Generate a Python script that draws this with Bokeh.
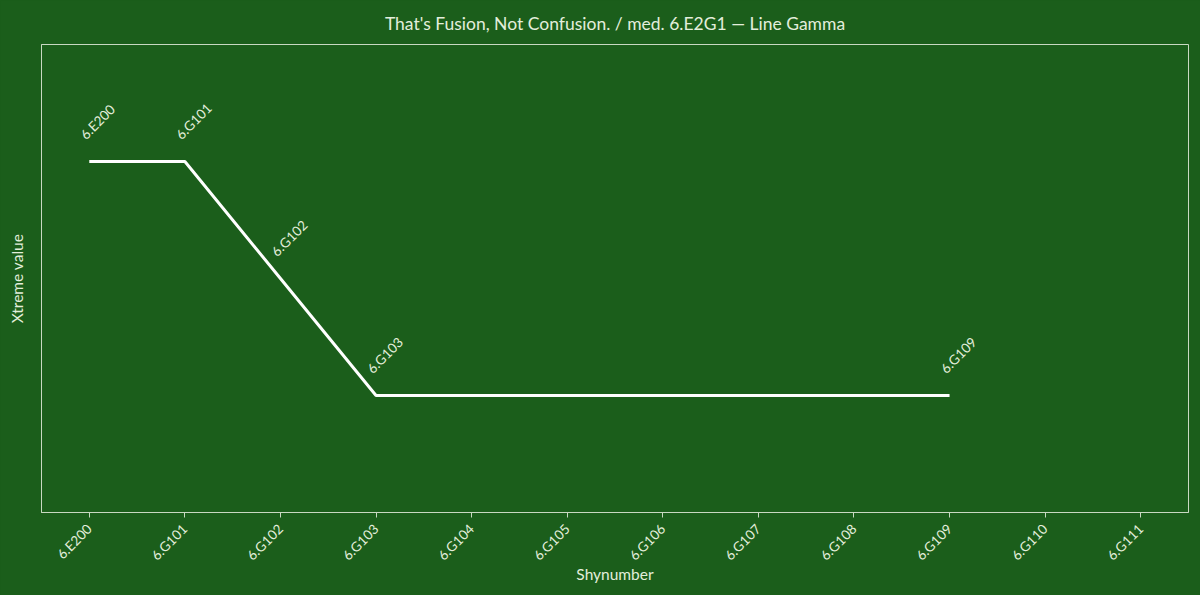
import math
import re
from bokeh.plotting import figure
from bokeh.models import ColumnDataSource, FixedTicker, Range1d, FactorRange
from bokeh.core.properties import value
from bokeh.embed import file_html
from bokeh.resources import INLINE

categories = ["6.E200", "6.G101", "6.G102", "6.G103", "6.G104", "6.G105",
              "6.G106", "6.G107", "6.G108", "6.G109", "6.G110", "6.G111"]
point_x = ["6.E200", "6.G101", "6.G102", "6.G103", "6.G109"]
point_y = [2.0, 2.0, 1.5, 1.0, 1.0]
title_text = "That's Fusion, Not Confusion. / med. 6.E2G1 \u2014 Line Gamma"

BG = "#1b5e1b"
FG = "#e3eedc"
EDGE = "#c9d9c2"
FONT = "Lato"

src = ColumnDataSource(dict(x=point_x, y=point_y, label=point_x))

p = figure(x_range=FactorRange(*categories), y_range=Range1d(0.5, 2.5),
           frame_width=1147, frame_height=468,
           min_border_left=41, min_border_right=12, min_border_top=44, min_border_bottom=83,
           output_backend="svg", toolbar_location=None, title=title_text)
p.x_range.range_padding = 0
p.background_fill_color = BG
p.border_fill_color = BG
p.outline_line_color = EDGE
p.grid.visible = False

p.title.align = "center"
p.title.text_color = FG
p.title.text_font = FONT
p.title.text_font_size = "17.5px"
p.title.text_font_style = "normal"
p.title.text_line_height = 0.8
p.title.standoff = 21

p.line("x", "y", source=src, line_color="white", line_width=3)
p.text("x", "y", text="label", source=src, angle=math.pi / 4,
       x_offset=-1, y_offset=-19, text_align="left", text_baseline="bottom",
       text_color=FG, text_font=value(FONT), text_font_size="13.5px")

xa = p.xaxis[0]
xa.axis_label = "Shynumber"
xa.axis_label_text_color = FG
xa.axis_label_text_font = FONT
xa.axis_label_text_font_size = "15.5px"
xa.axis_label_text_font_style = "normal"
xa.axis_label_standoff = -7
xa.major_label_orientation = math.pi / 4
xa.major_label_standoff = 9
xa.major_label_text_color = FG
xa.major_label_text_font = FONT
xa.major_label_text_font_size = "13.5px"
xa.axis_line_color = EDGE
xa.major_tick_line_color = EDGE
xa.major_tick_in = 0
xa.major_tick_out = 5
xa.minor_tick_line_color = None

ya = p.yaxis[0]
ya.axis_label = "Xtreme value"
ya.axis_label_text_color = FG
ya.axis_label_text_font = FONT
ya.axis_label_text_font_size = "15.5px"
ya.axis_label_text_font_style = "normal"
ya.axis_label_standoff = 16
ya.ticker = FixedTicker(ticks=[])
ya.major_label_text_font_size = "0px"
ya.major_tick_line_color = None
ya.minor_tick_line_color = None
ya.axis_line_color = EDGE

html = file_html(p, INLINE)
html = re.sub(r"<body[^>]*>", "<body style=\"background:%s;margin:0;padding:0\">" % BG, html, count=1)
html = re.sub(r"<html[^>]*>", "<html lang=\"en\" style=\"background:%s\">" % BG, html, count=1)
open("out.html", "w").write(html)
